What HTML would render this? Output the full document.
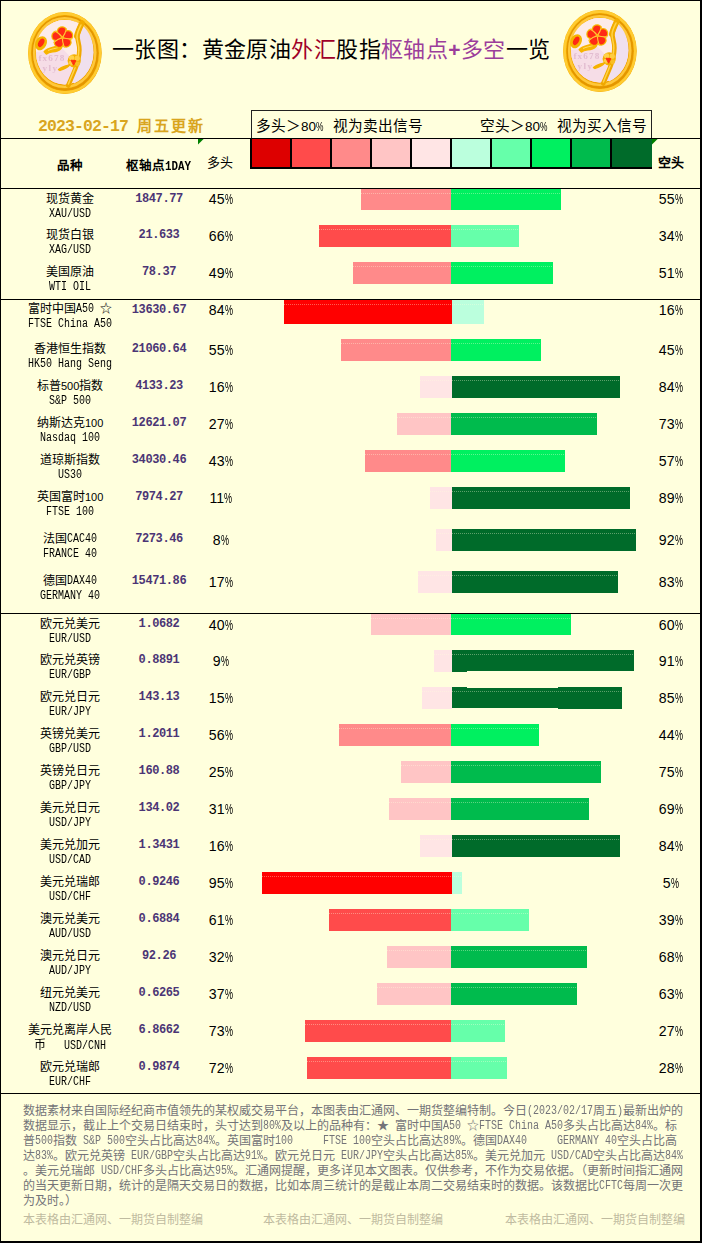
<!DOCTYPE html>
<html lang="zh-CN"><head><meta charset="utf-8"><title>一张图：黄金原油外汇股指枢轴点+多空一览</title>
<style>
html,body{margin:0;padding:0}
body{width:702px;height:1243px;position:relative;overflow:hidden;background:#FFFFDD;font-family:"Liberation Sans",sans-serif;color:#000}
div{position:absolute;white-space:pre;box-sizing:border-box}
.j{display:inline-block;white-space:nowrap;text-align:justify;text-align-last:justify;text-justify:inter-character}
.hl{left:0;width:700px;height:1px;background:#000}
.title{left:112px;top:35px;font-family:"Liberation Sans",sans-serif;font-weight:500;font-size:22px;line-height:30px;letter-spacing:.4px}
.date{left:38px;top:115px;font-size:16.5px;letter-spacing:-.9px;line-height:22px;color:#D9A51E;font-weight:bold;font-family:"Liberation Mono",monospace}
.date span{font-size:15px;letter-spacing:0;font-family:"Liberation Sans",sans-serif;width:66px;vertical-align:baseline}
.lt{top:116px;font-size:14.67px;line-height:20px}
.lt i{font-style:normal;font-size:13.5px}
.lt b{font-weight:normal;display:inline-block;width:7.5px;transform:scaleX(.62);transform-origin:0 50%}
.lc{top:138px;width:42px;height:31px;border:2px solid #000;border-top-width:1px}
.hd{font-weight:bold;font-size:12.5px;line-height:16px;top:157.5px}
.r{left:0;width:702px;height:37px}
.cn{left:20px;width:100px;top:3px;text-align:center;font-size:12px;line-height:14px}
.cn i{font-style:normal;font-size:11px}
.cn em{font-style:normal;font-family:"Liberation Mono",monospace;font-size:12px;display:inline-block;transform:scaleX(.8333);transform-origin:0 50%;text-align:left;line-height:14px;vertical-align:top}
.fl i{font-style:normal;font-family:"Liberation Mono",monospace;font-size:12px;display:inline-block;transform:scaleX(.8333);transform-origin:0 50%;white-space:pre;line-height:15px;vertical-align:top}
.en{left:10px;width:120px;top:18.5px;text-align:center;font-family:"Liberation Mono",monospace;font-size:12px;line-height:13px;transform:scaleX(.8333)}
.en span{font-family:"Liberation Sans",sans-serif;font-size:12px;display:inline-block;width:14.4px;text-align:center;transform:scaleX(1.2)}
.pv{left:109px;width:100px;top:2px;text-align:center;font-family:"Liberation Mono",monospace;font-weight:bold;font-size:12px;letter-spacing:-.4px;line-height:14px;color:#4B3575;top:3px}
.lp,.sp{top:3px;width:40px;text-align:center;font-size:14.1px;line-height:16px}
.lp{left:200.5px}.sp{left:650.5px}
.lp b,.sp b{font-weight:normal;display:inline-block;width:7.6px;transform:scaleX(.64);transform-origin:0 50%}
.br{top:0}
.br::after{content:"";position:absolute;left:0;right:0;top:4px;height:1px;background:repeating-linear-gradient(90deg,rgba(255,255,221,.36) 0 1px,transparent 1px 2px)}
u{text-decoration:none;display:inline-block;width:12px;text-align:center}
.fl{left:22.5px;font-size:12px;line-height:15px;color:#737378}
.wm{top:1213px;font-size:12px;line-height:15px;color:#BFBBA0}
</style></head><body>
<!-- frame -->
<div style="left:0;top:0;width:702px;height:1px;background:#000"></div>
<div style="left:0;top:0;width:1px;height:1243px;background:#000"></div>
<div style="left:700px;top:0;width:2px;height:1243px;background:#000"></div>
<div style="left:0;top:1241px;width:702px;height:2px;background:#000"></div>

<svg width="0" height="0" style="position:absolute"><defs>
<linearGradient id="gold" x1="0" y1="0" x2="1" y2="1"><stop offset="0" stop-color="#F8B400"/><stop offset=".5" stop-color="#F2A800"/><stop offset="1" stop-color="#E89800"/></linearGradient>
<linearGradient id="pk" x1="0" y1="0" x2="1" y2=".6"><stop offset="0" stop-color="#FCE8EA"/><stop offset=".55" stop-color="#F6DDE6"/><stop offset="1" stop-color="#EBD9EC"/></linearGradient>
<filter id="bl"><feGaussianBlur stdDeviation=".55"/></filter>
<symbol id="logo" viewBox="0 0 82 90">
<g filter="url(#bl)">
<ellipse cx="40.9" cy="45" rx="36.8" ry="40.9" fill="url(#gold)"/>
<ellipse cx="40.9" cy="45" rx="35.3" ry="39.4" fill="none" stroke="#FFCB30" stroke-width="2.6"/>
<ellipse cx="40.9" cy="45" rx="32.6" ry="36.6" fill="none" stroke="#E39600" stroke-width="1.6"/>
<ellipse cx="40.7" cy="44.6" rx="30.6" ry="34.3" fill="none" stroke="#FFC83A" stroke-width="2.4"/>
<ellipse cx="40.6" cy="44.3" rx="28.6" ry="32.2" fill="url(#pk)"/>
<ellipse cx="40.6" cy="44.3" rx="28.6" ry="32.2" fill="#F6DDE7"/>
<path d="M12 44 C11 28 22 13 40 12 C48 12 54 14 57 17 L54 30 L55 48 L50 53 L36 38 L22 43 Z" fill="#FCEBEA"/>
<path d="M58 17 C66 24 70 34 69.4 46 C69 58 62 70 50 75.6 L47 68 L54.6 52 L55 34 Z" fill="#F0E0EE"/>
<path d="M57.6 15.5 C55 21 53.6 24 53.4 28 C53.4 33 55.6 36 55.4 42 C55.2 50 53.4 56 51 61.5 C49 66.5 46.6 72 44.2 77.5" fill="none" stroke="#F0A800" stroke-width="4.6" stroke-linecap="round"/>
<path d="M58 15 C55.6 20 53.6 24 52.8 28" fill="none" stroke="#F2AC00" stroke-width="5.6" stroke-linecap="round"/>
<path d="M57 17 C54.6 22 53 25 53 28.5 C53 33 55 36.5 54.8 42 C54.6 50 52.8 56 50.4 61.5 C48.4 66.5 46.4 71 44.4 76" fill="none" stroke="#FFD448" stroke-width="1.5" stroke-linecap="round"/>
<path d="M20.6 43.6 C24 39.6 31 40 36.8 37 C38.6 39 36.4 41.6 33 42.6 C29 43.8 25 43.4 22.4 45.6 Z" fill="#F7B400" stroke="#F7B400" stroke-width="2.2" stroke-linejoin="round"/>
<path d="M24 42.5 C28 40.6 32 40.6 35 39.2" fill="none" stroke="#FFDA60" stroke-width="1"/>
<g transform="translate(38.4,29.6) rotate(-6)">
<g fill="#F6B600" stroke="#F6B600" stroke-width="2.6" stroke-linejoin="round">
<path id="pt" d="M0.7 -1.2 C-1.6 -2.2 -4.3 -4.6 -3.5 -7.6 C-2.8 -10 1 -10.9 3.1 -9.1 C5.1 -7.1 4.5 -4.4 3.1 -3.2 C2.1 -2.4 1.4 -1.9 0.7 -1.2Z"/>
<use href="#pt" transform="rotate(72)"/><use href="#pt" transform="rotate(144)"/><use href="#pt" transform="rotate(216)"/><use href="#pt" transform="rotate(288)"/>
</g>
<g fill="#FF2A12">
<use href="#pt"/><use href="#pt" transform="rotate(72)"/><use href="#pt" transform="rotate(144)"/><use href="#pt" transform="rotate(216)"/><use href="#pt" transform="rotate(288)"/>
</g>
<g fill="none" stroke="#FFC838" stroke-width="1.1" stroke-linecap="round">
<path id="sw" d="M0 0 Q3.4 -3.6 5 -8.4"/>
<use href="#sw" transform="rotate(72)"/><use href="#sw" transform="rotate(144)"/><use href="#sw" transform="rotate(216)"/><use href="#sw" transform="rotate(288)"/>
</g>
<circle r="1.5" fill="#FFB820"/>
</g>
<g transform="translate(17,35.2) rotate(28)">
<ellipse rx="5.6" ry="7.4" fill="#F5B400"/>
<ellipse cx="0" cy="-.4" rx="2.7" ry="4.6" fill="#FF2A12"/>
</g>
<g transform="translate(50.2,52.8)">
<circle r="6.6" fill="#F4B000"/>
<circle cx="-2.6" cy="-3" r="2.6" fill="#FFD24A"/><circle cx="3" cy="-2.6" r="2.6" fill="#FFCC40"/><circle cx="3.4" cy="3" r="2.4" fill="#F9BE28"/><circle cx="-3.4" cy="2.4" r="2.4" fill="#FFCE44"/>
<path d="M-3.2 -.6 L1.6 -.2 L-.6 4.4 Z" fill="#FF3210" stroke="#FF3210" stroke-width="1" stroke-linejoin="round"/>
</g>
<path d="M34.6 61.6 C38 58.4 42 58.4 45.6 56.6 C44.6 59.6 40 60.4 36 62.4 Z" fill="#F5B200" stroke="#F5B200" stroke-width="1.6" stroke-linejoin="round"/>
<text x="14.4" y="53" font-family="Liberation Serif,serif" font-weight="bold" font-size="9.2" letter-spacing="1.15" fill="#E2BCD0">fx678</text>
<text x="18.4" y="62.6" font-family="Liberation Serif,serif" font-weight="bold" font-size="9.2" letter-spacing="1.5" fill="#E2BCD0">yly</text>
</g>
</symbol></defs></svg>
<svg style="position:absolute;left:24px;top:8px" width="82" height="90"><use href="#logo"/></svg>
<svg style="position:absolute;left:559px;top:6px" width="82" height="90"><use href="#logo"/></svg>

<div class="title j" style="width:438.5px">一张图：黄金原油<span style="color:#A00028">外汇</span>股指<span style="color:#9B3D9B">枢轴点<b style="font-family:'Liberation Sans',sans-serif;font-size:21px;letter-spacing:0;display:inline-block;width:12.6px;text-align:center">+</b>多空</span>一览</div>

<div class="date">2023-02-17 <span class="j">周五更新</span></div>

<!-- legend -->
<div style="left:251px;top:110px;width:401px;height:29px;border:1px solid #222;border-bottom:0"></div>
<div class="lt j" style="left:256px;width:67.5px">多头＞<i>80<b>%</b></i></div><div class="lt j" style="left:333px;width:90px">视为卖出信号</div>
<div class="lt j" style="left:480px;width:67.5px">空头＞<i>80<b>%</b></i></div><div class="lt j" style="left:557px;width:90px">视为买入信号</div>
<div class="hl" style="top:138px"></div>
<div class="lc" style="left:250px;background:#DD0000"></div><div class="lc" style="left:290px;background:#FF4B4B"></div><div class="lc" style="left:330px;background:#FF8A8A"></div><div class="lc" style="left:370px;background:#FFC5C5"></div><div class="lc" style="left:410px;background:#FFE5E5"></div><div class="lc" style="left:450px;background:#BBFFDD"></div><div class="lc" style="left:490px;background:#66FFAA"></div><div class="lc" style="left:530px;background:#00F060"></div><div class="lc" style="left:570px;background:#00BB4D"></div><div class="lc" style="left:610px;background:#006B2A;border-right:0"></div>
<svg style="position:absolute;left:198px;top:139px" width="7" height="7"><path d="M0 0H5.6L0 5.6Z" fill="#008000"/></svg>
<svg style="position:absolute;left:652px;top:139px" width="7" height="7"><path d="M0 0H5.6L0 5.6Z" fill="#008000"/></svg>

<div class="hd j" style="left:57px;width:26px">品种</div>
<div class="hd" style="left:126px"><span class="j" style="width:39px">枢轴点</span><span style="font-family:'Liberation Mono',monospace;font-size:13px;display:inline-block;width:26px;transform:scaleX(.8333);transform-origin:0 50%">1DAY</span></div>
<div class="hd j" style="left:207px;width:26px;font-weight:normal;font-size:13px;top:155px">多头</div>
<div class="hd j" style="left:658px;width:26px;font-size:13px;top:155px">空头</div>

<div class="hl" style="top:188px"></div>
<div class="hl" style="top:299px"></div>
<div class="hl" style="top:613px"></div>
<div class="hl" style="top:1093px"></div>

<div class="r" style="top:189px">
<div class="cn"><span class="j" style="width:48px">现货黄金</span></div><div class="en">XAU/USD</div>
<div class="pv">1847.77</div>
<div class="lp" style="top:2px">45<b>%</b></div><div class="sp" style="top:2px">55<b>%</b></div>
<div class="br" style="top:0px;left:361px;width:90px;height:21px;background:#FF8A8A"></div>
<div class="br" style="top:0px;left:451px;width:110px;height:21px;background:#00F060"></div>
</div>
<div class="r" style="top:225px">
<div class="cn"><span class="j" style="width:48px">现货白银</span></div><div class="en">XAG/USD</div>
<div class="pv">21.633</div>
<div class="lp">66<b>%</b></div><div class="sp">34<b>%</b></div>
<div class="br" style="top:0px;left:319px;width:132px;height:22px;background:#FF4B4B"></div>
<div class="br" style="top:0px;left:451px;width:68px;height:22px;background:#66FFAA"></div>
</div>
<div class="r" style="top:262px">
<div class="cn"><span class="j" style="width:48px">美国原油</span></div><div class="en">WTI OIL</div>
<div class="pv">78.37</div>
<div class="lp">49<b>%</b></div><div class="sp">51<b>%</b></div>
<div class="br" style="top:0px;left:353px;width:98px;height:22px;background:#FF8A8A"></div>
<div class="br" style="top:0px;left:451px;width:102px;height:22px;background:#00F060"></div>
</div>
<div class="r" style="top:299px">
<div class="cn"><span class="j" style="width:84px">富时中国<em style="width:18px">A50</em><u style="margin-left:6px">☆</u></span></div><div class="en">FTSE China A50</div>
<div class="pv" style="top:4px">13630.67</div>
<div class="lp">84<b>%</b></div><div class="sp">16<b>%</b></div>
<div class="br" style="top:1px;left:284px;width:168px;height:24px;background:#FF0000"></div>
<div class="br" style="top:1px;left:452px;width:32px;height:24px;background:#BBFFDD"></div>
</div>
<div class="r" style="top:339px">
<div class="cn"><span class="j" style="width:72px">香港恒生指数</span></div><div class="en">HK50 Hang Seng</div>
<div class="pv">21060.64</div>
<div class="lp">55<b>%</b></div><div class="sp">45<b>%</b></div>
<div class="br" style="top:0px;left:341px;width:110px;height:22px;background:#FF8A8A"></div>
<div class="br" style="top:0px;left:451px;width:90px;height:22px;background:#00F060"></div>
</div>
<div class="r" style="top:376px">
<div class="cn"><span class="j" style="width:66px">标普<i>500</i>指数</span></div><div class="en">S&amp;P 500</div>
<div class="pv">4133.23</div>
<div class="lp">16<b>%</b></div><div class="sp">84<b>%</b></div>
<div class="br" style="top:0px;left:420px;width:32px;height:22px;background:#FFE5E5"></div>
<div class="br" style="top:0px;left:452px;width:168px;height:22px;background:#006B2A"></div>
</div>
<div class="r" style="top:413px">
<div class="cn"><span class="j" style="width:66px">纳斯达克<i>100</i></span></div><div class="en">Nasdaq 100</div>
<div class="pv">12621.07</div>
<div class="lp">27<b>%</b></div><div class="sp">73<b>%</b></div>
<div class="br" style="top:0px;left:397px;width:54px;height:22px;background:#FFC5C5"></div>
<div class="br" style="top:0px;left:451px;width:146px;height:22px;background:#00BB4D"></div>
</div>
<div class="r" style="top:450px">
<div class="cn"><span class="j" style="width:60px">道琼斯指数</span></div><div class="en">US30</div>
<div class="pv">34030.46</div>
<div class="lp">43<b>%</b></div><div class="sp">57<b>%</b></div>
<div class="br" style="top:0px;left:365px;width:86px;height:22px;background:#FF8A8A"></div>
<div class="br" style="top:0px;left:451px;width:114px;height:22px;background:#00F060"></div>
</div>
<div class="r" style="top:487px">
<div class="cn"><span class="j" style="width:66px">英国富时<i>100</i></span></div><div class="en">FTSE 100</div>
<div class="pv">7974.27</div>
<div class="lp">11<b>%</b></div><div class="sp">89<b>%</b></div>
<div class="br" style="top:0px;left:430px;width:22px;height:22px;background:#FFE5E5"></div>
<div class="br" style="top:0px;left:452px;width:178px;height:22px;background:#006B2A"></div>
</div>
<div class="r" style="top:529px">
<div class="cn"><span class="j" style="width:54px">法国<em style="width:30px">CAC40</em></span></div><div class="en">FRANCE 40</div>
<div class="pv">7273.46</div>
<div class="lp">8<b>%</b></div><div class="sp">92<b>%</b></div>
<div class="br" style="top:0px;left:436px;width:16px;height:22px;background:#FFE5E5"></div>
<div class="br" style="top:0px;left:452px;width:184px;height:22px;background:#006B2A"></div>
</div>
<div class="r" style="top:571px">
<div class="cn"><span class="j" style="width:54px">德国<em style="width:30px">DAX40</em></span></div><div class="en">GERMANY 40</div>
<div class="pv">15471.86</div>
<div class="lp">17<b>%</b></div><div class="sp">83<b>%</b></div>
<div class="br" style="top:0px;left:418px;width:34px;height:22px;background:#FFE5E5"></div>
<div class="br" style="top:0px;left:452px;width:166px;height:22px;background:#006B2A"></div>
</div>
<div class="r" style="top:614px">
<div class="cn"><span class="j" style="width:60px">欧元兑美元</span></div><div class="en">EUR/USD</div>
<div class="pv">1.0682</div>
<div class="lp">40<b>%</b></div><div class="sp">60<b>%</b></div>
<div class="br" style="top:0px;left:371px;width:80px;height:21px;background:#FFC5C5"></div>
<div class="br" style="top:0px;left:451px;width:120px;height:21px;background:#00F060"></div>
</div>
<div class="r" style="top:650px">
<div class="cn"><span class="j" style="width:60px">欧元兑英镑</span></div><div class="en">EUR/GBP</div>
<div class="pv">0.8891</div>
<div class="lp">9<b>%</b></div><div class="sp">91<b>%</b></div>
<div class="br" style="top:0px;left:434px;width:18px;height:22px;background:#FFE5E5"></div>
<div class="br" style="left:452px;width:182px;height:21px;background:#006B2A"></div><div style="left:452px;top:20px;width:15px;height:2px;background:#006B2A"></div>
</div>
<div class="r" style="top:687px">
<div class="cn"><span class="j" style="width:60px">欧元兑日元</span></div><div class="en">EUR/JPY</div>
<div class="pv">143.13</div>
<div class="lp">15<b>%</b></div><div class="sp">85<b>%</b></div>
<div class="br" style="top:0px;left:422px;width:30px;height:22px;background:#FFE5E5"></div>
<div class="br" style="left:452px;width:170px;height:22px;background:#006B2A"></div><div style="left:467px;top:0;width:91px;height:1px;background:#FFFFDD"></div><div style="left:452px;top:21px;width:106px;height:1px;background:#FFFFDD"></div>
</div>
<div class="r" style="top:724px">
<div class="cn"><span class="j" style="width:60px">英镑兑美元</span></div><div class="en">GBP/USD</div>
<div class="pv">1.2011</div>
<div class="lp">56<b>%</b></div><div class="sp">44<b>%</b></div>
<div class="br" style="top:0px;left:339px;width:112px;height:22px;background:#FF8A8A"></div>
<div class="br" style="top:0px;left:451px;width:88px;height:22px;background:#00F060"></div>
</div>
<div class="r" style="top:761px">
<div class="cn"><span class="j" style="width:60px">英镑兑日元</span></div><div class="en">GBP/JPY</div>
<div class="pv">160.88</div>
<div class="lp">25<b>%</b></div><div class="sp">75<b>%</b></div>
<div class="br" style="top:0px;left:401px;width:50px;height:22px;background:#FFC5C5"></div>
<div class="br" style="top:0px;left:451px;width:150px;height:22px;background:#00BB4D"></div>
</div>
<div class="r" style="top:798px">
<div class="cn"><span class="j" style="width:60px">美元兑日元</span></div><div class="en">USD/JPY</div>
<div class="pv">134.02</div>
<div class="lp">31<b>%</b></div><div class="sp">69<b>%</b></div>
<div class="br" style="top:0px;left:389px;width:62px;height:22px;background:#FFC5C5"></div>
<div class="br" style="top:0px;left:451px;width:138px;height:22px;background:#00BB4D"></div>
</div>
<div class="r" style="top:835px">
<div class="cn"><span class="j" style="width:60px">美元兑加元</span></div><div class="en">USD/CAD</div>
<div class="pv">1.3431</div>
<div class="lp">16<b>%</b></div><div class="sp">84<b>%</b></div>
<div class="br" style="top:0px;left:420px;width:32px;height:22px;background:#FFE5E5"></div>
<div class="br" style="top:0px;left:452px;width:168px;height:22px;background:#006B2A"></div>
</div>
<div class="r" style="top:872px">
<div class="cn"><span class="j" style="width:60px">美元兑瑞郎</span></div><div class="en">USD/CHF</div>
<div class="pv">0.9246</div>
<div class="lp">95<b>%</b></div><div class="sp">5<b>%</b></div>
<div class="br" style="top:0px;left:262px;width:190px;height:22px;background:#FF0000"></div>
<div class="br" style="top:0px;left:452px;width:10px;height:22px;background:#BBFFDD"></div>
</div>
<div class="r" style="top:909px">
<div class="cn"><span class="j" style="width:60px">澳元兑美元</span></div><div class="en">AUD/USD</div>
<div class="pv">0.6884</div>
<div class="lp">61<b>%</b></div><div class="sp">39<b>%</b></div>
<div class="br" style="top:0px;left:329px;width:122px;height:22px;background:#FF4B4B"></div>
<div class="br" style="top:0px;left:451px;width:78px;height:22px;background:#66FFAA"></div>
</div>
<div class="r" style="top:946px">
<div class="cn"><span class="j" style="width:60px">澳元兑日元</span></div><div class="en">AUD/JPY</div>
<div class="pv">92.26</div>
<div class="lp">32<b>%</b></div><div class="sp">68<b>%</b></div>
<div class="br" style="top:0px;left:387px;width:64px;height:22px;background:#FFC5C5"></div>
<div class="br" style="top:0px;left:451px;width:136px;height:22px;background:#00BB4D"></div>
</div>
<div class="r" style="top:983px">
<div class="cn"><span class="j" style="width:60px">纽元兑美元</span></div><div class="en">NZD/USD</div>
<div class="pv">0.6265</div>
<div class="lp">37<b>%</b></div><div class="sp">63<b>%</b></div>
<div class="br" style="top:0px;left:377px;width:74px;height:22px;background:#FFC5C5"></div>
<div class="br" style="top:0px;left:451px;width:126px;height:22px;background:#00BB4D"></div>
</div>
<div class="r" style="top:1020px">
<div class="cn"><span class="j" style="width:84px">美元兑离岸人民</span></div><div class="en"><span>币</span>   USD/CNH</div>
<div class="pv">6.8662</div>
<div class="lp">73<b>%</b></div><div class="sp">27<b>%</b></div>
<div class="br" style="top:0px;left:305px;width:146px;height:22px;background:#FF4B4B"></div>
<div class="br" style="top:0px;left:451px;width:54px;height:22px;background:#66FFAA"></div>
</div>
<div class="r" style="top:1057px">
<div class="cn"><span class="j" style="width:60px">欧元兑瑞郎</span></div><div class="en">EUR/CHF</div>
<div class="pv">0.9874</div>
<div class="lp">72<b>%</b></div><div class="sp">28<b>%</b></div>
<div class="br" style="top:0px;left:307px;width:144px;height:22px;background:#FF4B4B"></div>
<div class="br" style="top:0px;left:451px;width:56px;height:22px;background:#66FFAA"></div>
</div>

<div class="fl j" style="top:1104px;width:660px">数据素材来自国际经纪商市值领先的某权威交易平台，本图表由汇通网、一期货整编特制。今日<i style="width:66px">(2023/02/17</i>周五<i style="width:6px">)</i>最新出炉的</div>
<div class="fl j" style="top:1119px;width:654px">数据显示，截止上个交易日结束时，头寸达到<i style="width:18px">80%</i>及以上的品种有：<u>★</u><i style="width:6px"> </i>富时中国<i style="width:24px">A50 </i><u>☆</u><i style="width:84px">FTSE China A50</i>多头占比高达<i style="width:18px">84%</i>。标</div>
<div class="fl j" style="top:1134px;width:654px">普<i style="width:18px">500</i>指数<i style="width:48px"> S&amp;P 500</i>空头占比高达<i style="width:18px">84%</i>。英国富时<i style="width:96px">100     FTSE 100</i>空头占比高达<i style="width:18px">89%</i>。德国<i style="width:120px">DAX40     GERMANY 40</i>空头占比高</div>
<div class="fl j" style="top:1149px;width:660px">达<i style="width:18px">83%</i>。欧元兑英镑<i style="width:48px"> EUR/GBP</i>空头占比高达<i style="width:18px">91%</i>。欧元兑日元<i style="width:48px"> EUR/JPY</i>空头占比高达<i style="width:18px">85%</i>。美元兑加元<i style="width:48px"> USD/CAD</i>空头占比高达<i style="width:18px">84%</i></div>
<div class="fl j" style="top:1164px;width:660px">。美元兑瑞郎<i style="width:48px"> USD/CHF</i>多头占比高达<i style="width:18px">95%</i>。汇通网提醒，更多详见本文图表。仅供参考，不作为交易依据。（更新时间指汇通网</div>
<div class="fl j" style="top:1179px;width:660px">的当天更新日期，统计的是隔天交易日的数据，比如本周三统计的是截止本周二交易结束时的数据。该数据比<i style="width:24px">CFTC</i>每周一次更</div>
<div class="fl j" style="top:1194px;width:54px">为及时。）</div>
<div class="wm j" style="left:23px;width:180px">本表格由汇通网、一期货自制整编</div>
<div class="wm j" style="left:263px;width:180px">本表格由汇通网、一期货自制整编</div>
<div class="wm j" style="left:505px;width:180px">本表格由汇通网、一期货自制整编</div>
</body></html>
